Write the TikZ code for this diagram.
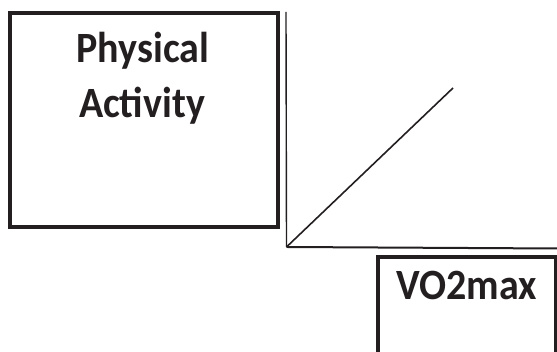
\documentclass[tikz,border=0pt]{standalone}
\usepackage{fontspec}
\usepackage{graphicx}
\setmainfont{Carlito}
\definecolor{ink}{HTML}{231F20}
\newcommand{\tallify}[1]{\scalebox{1}[1.08]{#1}}
\begin{document}
\begin{tikzpicture}[x=1pt,y=1pt,
  boxstyle/.style={draw=ink, line width=4pt, rectangle, inner sep=0pt},
  lbl/.style={text=ink, font=\fontsize{40}{48}\selectfont\bfseries, anchor=base, inner sep=0pt},
  link/.style={draw=ink, line width=1.6pt}]
\useasboundingbox (0,0) rectangle (557,352);
% boxes
\node[boxstyle, minimum width=268.5pt, minimum height=214pt] (pa) at (143.75,232) {};
\node[lbl] (pat1) at (143,289) {\tallify{Physical}};
\node[lbl] (pat2) at (142,234) {\tallify{Activity}};
\begin{scope}
\clip (0,0) rectangle (557,352);
\node[boxstyle, minimum width=178pt, minimum height=120pt] (vo) at (467,35) {};
\end{scope}
\node[lbl] (vot) at (467,52) {\tallify{VO2max}};
% lines
\coordinate (top) at (286,340);
\coordinate (corner) at (286.5,105);
\coordinate (right) at (557,103.5);
\coordinate (diag) at (453,264);
\draw[link, line width=1.4pt] (top) -- (corner);
\draw[link, line width=2pt] (corner) -- (right);
\draw[link] (corner) -- (diag);
\end{tikzpicture}
\end{document}
